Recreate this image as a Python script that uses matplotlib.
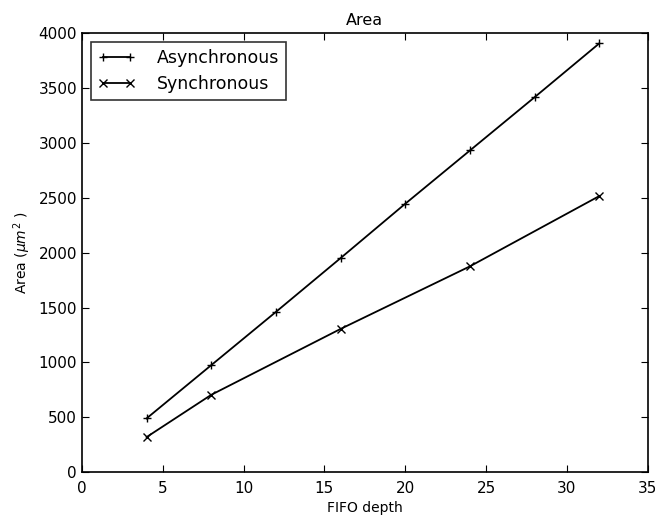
import numpy as np
import matplotlib
matplotlib.use("Agg")
import matplotlib.pyplot as plt

# ---- data
depth_async = [4, 8, 12, 16, 20, 24, 28, 32]
area_async  = [490, 975, 1460, 1950, 2445, 2930, 3415, 3905]
depth_sync  = [4, 8, 16, 24, 32]
area_sync   = [320, 705, 1305, 1875, 2515]

plt.rcParams['font.family'] = 'DejaVu Sans'
plt.rcParams['mathtext.fontset'] = 'dejavusans'

fig = plt.figure(figsize=(6.55, 5.15), dpi=100, facecolor='white')
ax = fig.add_axes([0.125, 0.083, 0.864, 0.853])

ax.plot(depth_async, area_async, color='black', marker='+', markersize=6,
        markeredgewidth=1, linewidth=1.3, label='Asynchronous')
ax.plot(depth_sync, area_sync, color='black', marker='x', markersize=6,
        markeredgewidth=1, linewidth=1.3, label='Synchronous')

ax.set_xlim(0, 35)
ax.set_ylim(0, 4000)
ax.set_xticks(np.arange(0, 36, 5))
ax.set_yticks(np.arange(0, 4001, 500))
ax.tick_params(direction='in', top=True, right=True, length=5, labelsize=11)
ax.tick_params(axis='x', pad=6)
for sp in ax.spines.values():
    sp.set_linewidth(1.2)

ax.set_title('Area', fontsize=11.5)
ax.set_xlabel('FIFO depth', fontsize=10)
ax.set_ylabel(r'Area ($\mu m^2$ )', fontsize=10)

leg = ax.legend(loc='upper left', fontsize=12.5, numpoints=2, fancybox=False,
                handlelength=2.2, handletextpad=1.2, borderaxespad=0.5)
leg.get_frame().set_edgecolor('black')
leg.get_frame().set_linewidth(1.2)

plt.savefig('out.png', dpi=100, facecolor='white')
